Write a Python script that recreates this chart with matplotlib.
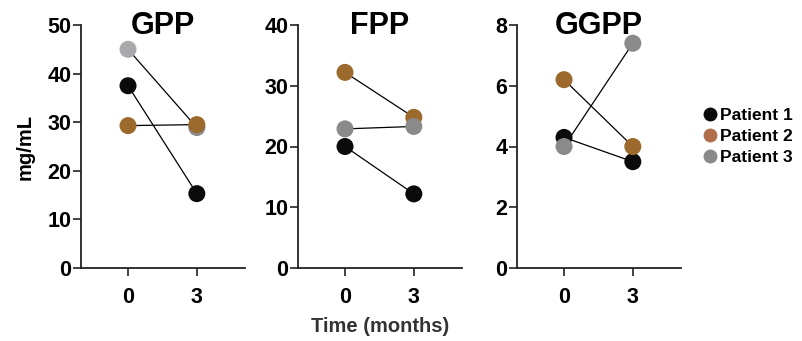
import matplotlib
matplotlib.use('Agg')
import matplotlib.pyplot as plt
from matplotlib.lines import Line2D

plt.rcParams['font.family'] = ['Liberation Sans', 'DejaVu Sans']
plt.rcParams['font.weight'] = 'bold'

months = [0, 3]
patients = ['Patient 1', 'Patient 2', 'Patient 3']

panels = ['GPP', 'FPP', 'GGPP']
gpp = [[37.5, 15.3], [29.3, 29.5], [45.0, 28.9]]
fpp = [[20.0, 12.2], [32.2, 24.8], [22.9, 23.3]]
ggpp = [[4.3, 3.5], [6.2, 4.0], [4.0, 7.4]]
values = [gpp, fpp, ggpp]

ymax = [50, 40, 8]
ystep = [10, 10, 2]
# drawing order of patients in each panel (last is on top)
order = [[2, 0, 1], [0, 1, 2], [0, 1, 2]]

colors = ['#0b0b0b', '#9b6a2c', '#8a8a8a']
gpp_first_gray = '#a9a9ac'
legend_colors = ['#0b0b0b', '#b06e4c', '#8a8a8a']

fig = plt.figure(figsize=(8.03, 3.41), dpi=100)
lefts = [81, 298, 517]

for i, name in enumerate(panels):
    ax = fig.add_axes([lefts[i] / 803, 73 / 341, 164 / 803, 243 / 341])
    for k, p in enumerate(order[i]):
        y = values[i][p]
        ax.plot(months, y, color='black', lw=0.9, zorder=2)
        c = [colors[p], colors[p]]
        if i == 0 and p == 2:
            c[0] = gpp_first_gray
        ax.scatter(months, y, s=150, c=c, zorder=3 + k * 0.1, linewidths=0,
                   clip_on=False)
    ax.set_xlim(-2.05, 5.1)
    ax.set_ylim(0, ymax[i])
    ax.set_yticks(range(0, ymax[i] + 1, ystep[i]))
    ax.set_xticks(months)
    for s in ['top', 'right']:
        ax.spines[s].set_visible(False)
    for s in ['left', 'bottom']:
        ax.spines[s].set_linewidth(1.3)
        ax.spines[s].set_color('#222222')
    ax.tick_params(axis='both', length=6, width=1.2, color='#222222',
                   labelsize=15.5, pad=1)
    ax.tick_params(axis='x', pad=8)
    for lab in ax.get_xticklabels() + ax.get_yticklabels():
        lab.set_fontweight('bold')
    ax.text(0.5, 0.995, name, transform=ax.transAxes, ha='center', va='center',
            fontsize=22, fontweight='bold')
    if i == 0:
        ax.set_ylabel('mg/mL', fontsize=14.5, fontweight='bold', labelpad=9)
    if i == 1:
        ax.set_xlabel('Time (months)', fontsize=14.5, fontweight='bold',
                      color='#333333', labelpad=6)

handles = [Line2D([], [], marker='o', ls='', color=legend_colors[k],
                  markersize=9) for k in range(3)]
fig.legend(handles, patients, loc='center left', bbox_to_anchor=(0.865, 0.6),
           frameon=False, prop={'weight': 'bold', 'size': 12.5},
           handletextpad=0.05, labelspacing=0.35, handlelength=1.0,
           borderaxespad=0)

fig.savefig('out.png', dpi=100)
plt.close('all')
